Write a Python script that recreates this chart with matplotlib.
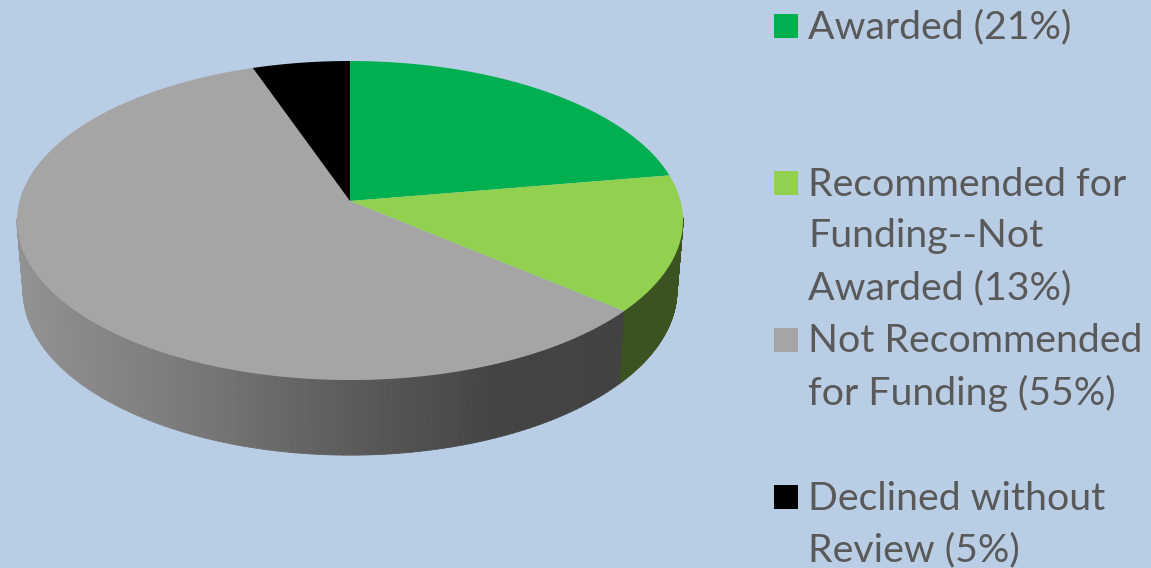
"""3D-looking pie of proposal outcomes, with a hand placed legend."""

import matplotlib

matplotlib.use("Agg")
import matplotlib.pyplot as plt
import numpy as np
from matplotlib.collections import PolyCollection
from matplotlib.patches import Polygon, Rectangle

# --- Data ---
labels = [
    "Awarded (21%)",
    "Recommended for\nFunding--Not\nAwarded (13%)",
    "Not Recommended\nfor Funding (55%)",
    "Declined without\nReview (5%)",
]
shares = [21, 13, 55, 5]

# --- Style ---
BG = "#B9CDE5"
TEXT = "#595959"
top_colors = ["#00B050", "#92D050", "#A5A5A5", "#000000"]
KEY_Y = [14, 171, 328, 485]
LINE_H = 52


def rim(theta, a, b, cy, k=0.1223, cx=350):
    """Project a circle point (clockwise from 12 o'clock) with some perspective."""
    u, v = np.sin(theta), np.cos(theta)
    w = 1 + k * v
    return np.column_stack([cx + a * u / w, cy - b * v / w])


def top_rim(theta):
    return rim(theta, 330.5, 157.1, 201)


def low_rim(theta):
    return rim(theta, 324.5, 162.5, 270)


def wall_color(x, i):
    # the side of the grey slice darkens left to right, green stays flat
    if i == 1:
        return (0.23, 0.32, 0.13)
    g = np.interp(x, [20, 200, 350, 500, 620], [146, 120, 92, 68, 66]) / 255
    return (g, g, g)


fig = plt.figure(figsize=(11.51, 5.68), dpi=100, facecolor=BG)
ax = fig.add_axes([0, 0, 1, 1])
ax.set_xlim(0, 1151)
ax.set_ylim(568, 0)
ax.axis("off")

edges = 2 * np.pi * np.cumsum([0] + shares) / sum(shares)

# --- Side wall first, only the near half can be seen ---
for i in range(len(shares)):
    th = np.linspace(edges[i], edges[i + 1], 200)
    th = th[np.cos(th) < -0.1]
    if len(th) < 2:
        continue
    upper, lower = top_rim(th), low_rim(th)
    quads, cols = [], []
    for j in range(len(th) - 1):
        quads.append([upper[j], upper[j + 1], lower[j + 1], lower[j]])
        cols.append(wall_color(upper[j, 0], i))
    ax.add_collection(PolyCollection(quads, facecolors=cols, edgecolors=cols, linewidths=0.6))

# --- Top surface ---
for i, col in enumerate(top_colors):
    th = np.linspace(edges[i], edges[i + 1], 300)
    pts = np.vstack([[350, 201], top_rim(th)])
    ax.add_patch(Polygon(pts, closed=True, facecolor=col, edgecolor="none"))

# --- Legend ---
for label, col, y in zip(labels, top_colors, KEY_Y):
    ax.add_patch(Rectangle((774, y), 24, 24, facecolor=col, edgecolor="none"))
    for n, line in enumerate(label.split("\n")):
        ax.text(808, y + 24.5 + n * LINE_H, line, color=TEXT, fontsize=28.3,
                family="Lato", va="baseline", ha="left")

fig.savefig("out.png", dpi=100, facecolor=BG)
plt.close(fig)
